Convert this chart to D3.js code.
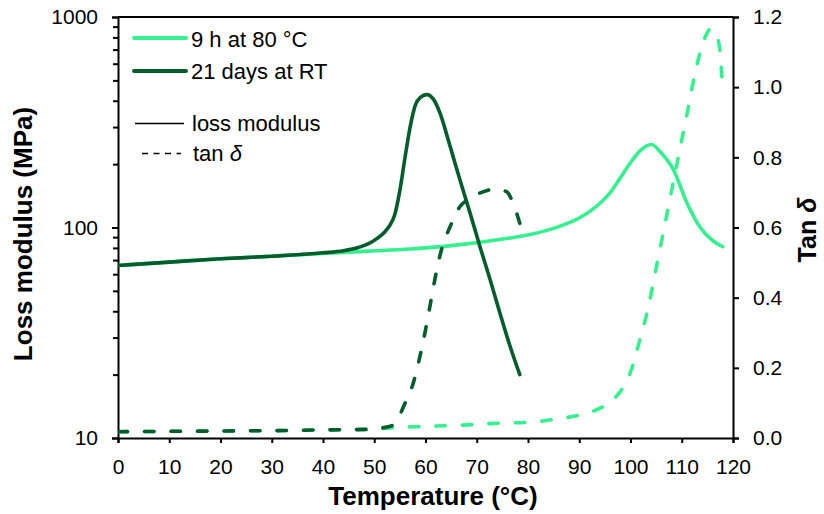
<!DOCTYPE html>
<html>
<head>
<meta charset="utf-8">
<script src="https://cdn.jsdelivr.net/npm/d3@7"></script>
<style>
  html, body { margin: 0; padding: 0; background: #fff; }
  svg { display: block; font-family: "Liberation Sans", Arial, sans-serif; }
</style>
</head>
<body>
<svg id="chart" width="824" height="514"></svg>
<script>
// Loss modulus (MPa) and tan delta vs temperature for two curing schedules
const tempLoss80 = [0, 10, 20, 30, 40, 49, 57, 65, 74.5, 80.4, 86, 90, 92, 94, 96, 98, 100, 102, 104.1, 106, 108.4, 111, 113.6, 116.2, 118];
const loss80     = [66, 68.5, 71, 73, 75.3, 77.2, 79, 82, 87.7, 92.6, 101, 111, 119, 130, 146, 172, 203, 233, 248, 226, 188, 131, 100, 86, 81];

const tempLossRT = [0, 10, 20, 30, 40, 44, 47, 49, 50.5, 52, 53, 54, 55, 56, 57, 58, 59, 60.3, 61.8, 62.8, 64.8, 66.7, 68.7, 70.6, 72.6, 74.5, 76.5, 78.4];
const lossRT     = [66, 68.5, 71, 73, 75.8, 77.5, 80.5, 84, 88.5, 95, 102, 115, 150, 215, 300, 380, 415, 428, 398, 351, 243, 169, 117, 81.5, 56.6, 39.4, 27.3, 20];

const tempTan80  = [0, 10, 20, 30, 40, 50, 54, 60, 66, 74, 80.4, 86, 89, 91, 93, 95, 96.5, 97.6, 98.8, 99.9, 101.8, 103.5, 104.8, 106.1, 107.4, 108.7, 110, 111.3, 112.6, 113.9, 114.8, 115.6, 116.5, 117.3, 117.9];
const tan80      = [0.018, 0.019, 0.02, 0.021, 0.023, 0.025, 0.03, 0.033, 0.036, 0.042, 0.045, 0.055, 0.062, 0.069, 0.078, 0.092, 0.108, 0.125, 0.15, 0.184, 0.279, 0.374, 0.469, 0.564, 0.659, 0.755, 0.849, 0.944, 1.04, 1.115, 1.15, 1.166, 1.155, 1.12, 1.016];

const tempTanRT  = [0, 10, 20, 30, 40, 50, 51.7, 53.7, 56, 57.6, 58.6, 59.6, 60.5, 61.2, 62.2, 63.1, 64.8, 66.7, 68.7, 71.9, 73.6, 75.8, 77.1, 78.4];
const tanRT      = [0.018, 0.019, 0.02, 0.021, 0.023, 0.025, 0.029, 0.037, 0.099, 0.156, 0.213, 0.279, 0.346, 0.403, 0.479, 0.536, 0.602, 0.659, 0.683, 0.705, 0.71, 0.702, 0.669, 0.612];

const xTicks      = [0, 10, 20, 30, 40, 50, 60, 70, 80, 90, 100, 110, 120];
const yLeftMajor  = [10, 100, 1000];
const yLeftMinor  = [20, 30, 40, 50, 60, 70, 80, 90, 200, 300, 400, 500, 600, 700, 800, 900];
const yRightTicks = [0, 0.2, 0.4, 0.6, 0.8, 1.0, 1.2];

const seriesNames = ["9 h at 80 °C", "21 days at RT"];
const lightGreen = "#35f08e";
const darkGreen  = "#035c2c";

const W = 824, H = 514;
const margin = { top: 17, right: 91, bottom: 76, left: 118 };
const x0 = margin.left, x1 = W - margin.right;
const yTop = margin.top, yBot = H - margin.bottom;

const svg = d3.select("#chart");

const x  = d3.scaleLinear().domain([0, 120]).range([x0, x1]);
const yL = d3.scaleLog().domain([10, 1000]).range([yBot, yTop]);
const yR = d3.scaleLinear().domain([0, 1.2]).range([yBot, yTop]);

const fontTick = 21;

// Plot frame (top edge)
svg.append("line")
  .attr("x1", x0).attr("x2", x1).attr("y1", yTop).attr("y2", yTop)
  .attr("stroke", "#000").attr("stroke-width", 2);

// Axes
const xAxis = d3.axisBottom(x).tickValues(xTicks).tickFormat(d3.format("d")).tickSize(5).tickPadding(16);
const gx = svg.append("g").attr("transform", `translate(0,${yBot})`).call(xAxis);

const yAxisL = d3.axisLeft(yL).tickValues(yLeftMajor).tickFormat(d3.format("d")).tickSize(6).tickPadding(14);
const gyl = svg.append("g").attr("transform", `translate(${x0},0)`).call(yAxisL);
const yAxisLMinor = d3.axisLeft(yL).tickValues(yLeftMinor).tickFormat("").tickSize(5);
const gylm = svg.append("g").attr("transform", `translate(${x0},0)`).call(yAxisLMinor);

const yAxisR = d3.axisRight(yR).tickValues(yRightTicks).tickFormat(d3.format(".1f")).tickSize(6).tickPadding(14);
const gyr = svg.append("g").attr("transform", `translate(${x1},0)`).call(yAxisR);

[gx, gyl, gylm, gyr].forEach(g => {
  g.select(".domain").attr("stroke", "#000").attr("stroke-width", 2);
  g.selectAll(".tick line").attr("stroke", "#000").attr("stroke-width", 2);
  g.selectAll(".tick text")
    .attr("fill", "#000")
    .style("font-family", '"Liberation Sans", Arial, sans-serif')
    .style("font-size", fontTick + "px");
});
gylm.select(".domain").remove();

// Curves
const clipId = "plotClip";
svg.append("clipPath").attr("id", clipId)
  .append("rect").attr("x", x0).attr("y", yTop - 3).attr("width", x1 - x0).attr("height", yBot - yTop + 3);

const plot = svg.append("g").attr("clip-path", `url(#${clipId})`);

const lossLine = d3.line().curve(d3.curveMonotoneX).x(d => x(d[0])).y(d => yL(d[1]));
const tanLine  = d3.line().curve(d3.curveMonotoneX).x(d => x(d[0])).y(d => yR(d[1]));

const zip = (a, b) => a.map((v, i) => [v, b[i]]);

const dash = "9.5,17";

plot.append("path").datum(zip(tempTan80, tan80))
  .attr("d", tanLine).attr("fill", "none").attr("stroke", lightGreen)
  .attr("stroke-width", 3.6).attr("stroke-dasharray", dash).attr("stroke-linecap", "round");

plot.append("path").datum(zip(tempLoss80, loss80))
  .attr("d", lossLine).attr("fill", "none").attr("stroke", lightGreen)
  .attr("stroke-width", 3.6).attr("stroke-linejoin", "round").attr("stroke-linecap", "round");

plot.append("path").datum(zip(tempTanRT, tanRT))
  .attr("d", tanLine).attr("fill", "none").attr("stroke", darkGreen)
  .attr("stroke-width", 3.6).attr("stroke-dasharray", dash).attr("stroke-linecap", "round");

plot.append("path").datum(zip(tempLossRT, lossRT))
  .attr("d", lossLine).attr("fill", "none").attr("stroke", darkGreen)
  .attr("stroke-width", 3.6).attr("stroke-linejoin", "round").attr("stroke-linecap", "round");

// Legend
const legend = svg.append("g").style("font-size", "22px").attr("fill", "#000");
const legendRows = [
  { y: 38,  color: lightGreen, width: 4, label: seriesNames[0], base: 46.5 },
  { y: 71,  color: darkGreen,  width: 4, label: seriesNames[1], base: 79 },
];
legendRows.forEach(r => {
  legend.append("line").attr("x1", 134).attr("x2", 186).attr("y1", r.y).attr("y2", r.y)
    .attr("stroke", r.color).attr("stroke-width", r.width).attr("stroke-linecap", "round");
  legend.append("text").attr("x", 191).attr("y", r.base).text(r.label);
});
legend.append("line").attr("x1", 135).attr("x2", 184).attr("y1", 123.5).attr("y2", 123.5)
  .attr("stroke", "#000").attr("stroke-width", 1.5);
legend.append("text").attr("x", 192).attr("y", 131).text("loss modulus");
legend.append("line").attr("x1", 142).attr("x2", 181).attr("y1", 153.5).attr("y2", 153.5)
  .attr("stroke", "#000").attr("stroke-width", 1.5).attr("stroke-dasharray", "6,5.5");
const tanLabel = legend.append("text").attr("x", 193).attr("y", 160.5);
tanLabel.append("tspan").text("tan ");
tanLabel.append("tspan").style("font-style", "italic").text("δ");

// Axis titles
svg.append("text")
  .attr("x", 433).attr("y", 505)
  .attr("text-anchor", "middle")
  .style("font-size", "26px").style("font-weight", "bold")
  .text("Temperature (°C)");

svg.append("text")
  .attr("transform", `translate(32,234) rotate(-90)`)
  .attr("text-anchor", "middle")
  .style("font-size", "26px").style("font-weight", "bold")
  .text("Loss modulus (MPa)");

const rt = svg.append("text")
  .attr("transform", `translate(816,230) rotate(-90)`)
  .attr("text-anchor", "middle")
  .style("font-size", "25px").style("font-weight", "bold");
rt.append("tspan").text("Tan ");
rt.append("tspan").style("font-style", "italic").text("δ");
</script>
</body>
</html>
